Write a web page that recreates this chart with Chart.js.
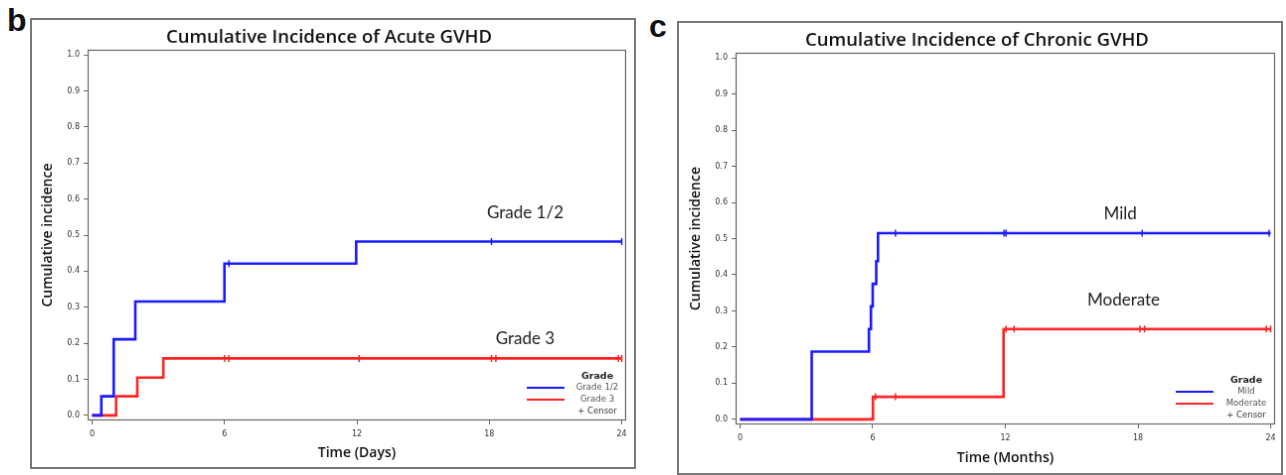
<!DOCTYPE html>
<html>
<head>
<meta charset="utf-8">
<script src="https://cdn.jsdelivr.net/npm/chart.js@4.4.1/dist/chart.umd.min.js"></script>
<style>
  body { margin: 0; background: #fff; width: 1286px; height: 475px; overflow: hidden; position: relative; font-family: "Open Sans", sans-serif; }
  canvas { position: absolute; border: 2px solid #777; }
  .tag { position: absolute; font: bold 32px/32px "Liberation Sans", Arial, sans-serif; color: #111; }
</style>
</head>
<body>
<div class="tag" style="left:7px;top:4px">b</div>
<div class="tag" style="left:649px;top:10px">c</div>
<canvas id="acute" width="606" height="451" style="left:30px;top:18px"></canvas>
<canvas id="chronic" width="606" height="454" style="left:677px;top:21px"></canvas>
<script>
// Acute GVHD (time in days)
const acuteG12Times = [0, 0.42, 0.98, 1.96, 6.0, 11.97, 24];
const acuteG12Values = [0, 0.053, 0.211, 0.316, 0.421, 0.482, 0.482];
const acuteG12CensorTimes = [6.2, 18.1, 24];
const acuteG12CensorValues = [0.421, 0.482, 0.482];

const acuteG3Times = [0, 1.09, 2.05, 3.23, 24];
const acuteG3Values = [0, 0.053, 0.105, 0.158, 0.158];
const acuteG3CensorTimes = [6.0, 6.2, 12.1, 18.1, 18.3, 23.85, 24];
const acuteG3CensorValues = [0.158, 0.158, 0.158, 0.158, 0.158, 0.158, 0.158];

// Chronic GVHD (time in months)
const chronicMildTimes = [0, 3.24, 5.83, 5.92, 6.0, 6.16, 6.24, 24];
const chronicMildValues = [0, 0.1875, 0.25, 0.3125, 0.375, 0.4375, 0.515, 0.515];
const chronicMildCensorTimes = [7.03, 11.94, 12.03, 18.19, 23.93];
const chronicMildCensorValues = [0.515, 0.515, 0.515, 0.515, 0.515];

const chronicModTimes = [0, 6.01, 11.92, 24];
const chronicModValues = [0, 0.0625, 0.25, 0.25];
const chronicModCensorTimes = [6.12, 7.03, 12.03, 12.4, 18.08, 18.3, 23.8, 24];
const chronicModCensorValues = [0.0625, 0.0625, 0.25, 0.25, 0.25, 0.25, 0.25, 0.25];

const xTicks = [0, 6, 12, 18, 24];
const yTicks = [0, 0.1, 0.2, 0.3, 0.4, 0.5, 0.6, 0.7, 0.8, 0.9, 1.0];

const BLUE = '#1a1aff';
const RED = '#ff2424';

function pts(xs, ys) {
  return xs.map((x, i) => ({ x: x, y: ys[i] }));
}

// box around the plot area, SAS style
const framePlugin = {
  id: 'frame',
  afterDraw(chart) {
    const a = chart.chartArea, ctx = chart.ctx;
    ctx.save();
    ctx.strokeStyle = '#666';
    ctx.lineWidth = 1.2;
    ctx.strokeRect(a.left + 0.5, a.top + 0.5, a.right - a.left - 1, a.bottom - a.top - 1);
    ctx.restore();
  }
};

// inset legend + curve labels
const extrasPlugin = {
  id: 'kmExtras',
  afterDatasetsDraw(chart, args, opts) {
    const a = chart.chartArea, ctx = chart.ctx;
    const xs = chart.scales.x, ys = chart.scales.y;
    ctx.save();
    ctx.textAlign = 'center';
    ctx.textBaseline = 'middle';
    ctx.fillStyle = '#222';
    ctx.font = '17px Lato, "Open Sans", sans-serif';
    (opts.notes || []).forEach(n => {
      ctx.fillText(n.text, xs.getPixelForValue(n.x), ys.getPixelForValue(n.y));
    });
    const cx = a.right - 29;
    ctx.font = 'bold 9.5px "DejaVu Sans", sans-serif';
    ctx.fillStyle = '#222';
    ctx.fillText(opts.title, cx, a.bottom - 44);
    ctx.font = '9.5px "DejaVu Sans Condensed", "DejaVu Sans", sans-serif';
    (opts.items || []).forEach((it, i) => {
      const y = a.bottom - 33 + i * 12;
      ctx.strokeStyle = it.color;
      ctx.lineWidth = 2;
      ctx.beginPath();
      ctx.moveTo(a.right - 100, y);
      ctx.lineTo(a.right - 62, y);
      ctx.stroke();
      ctx.fillStyle = '#555';
      ctx.fillText(it.label, cx, y);
    });
    ctx.fillStyle = '#333';
    ctx.fillText('+ Censor', cx, a.bottom - 9);
    ctx.restore();
  }
};

function makePanel(id, cfg) {
  const datasets = [];
  cfg.series.forEach(s => {
    datasets.push({
      type: 'line', label: s.label, data: pts(s.times, s.values),
      stepped: 'before', borderColor: s.color, borderWidth: 2.6,
      pointRadius: 0, fill: false
    });
    datasets.push({
      type: 'scatter', label: s.label + ' censor', data: pts(s.censorTimes, s.censorValues),
      pointStyle: 'line', rotation: 90, pointRadius: 3.5,
      borderColor: s.color, borderWidth: 1.5, backgroundColor: s.color
    });
  });

  new Chart(document.getElementById(id), {
    type: 'line',
    data: { datasets: datasets },
    options: {
      responsive: false,
      animation: false,
      layout: { padding: { right: cfg.padRight, bottom: 0, top: 0, left: 0 } },
      plugins: {
        legend: { display: false },
        tooltip: { enabled: false },
        title: {
          display: true, text: cfg.title, color: '#111',
          font: { family: '"Open Sans", sans-serif', size: 18.5, weight: '600' },
          padding: { top: 7, bottom: 0.8 }
        },
        kmExtras: { title: 'Grade', items: cfg.series.map(s => ({ label: s.label, color: s.color })), notes: cfg.notes }
      },
      scales: {
        x: {
          type: 'linear', min: -0.2, max: 24.2,
          afterBuildTicks: s => { s.ticks = xTicks.map(v => ({ value: v })); },
          afterFit: s => { s.height = cfg.xAxisHeight; },
          grid: { drawOnChartArea: false, tickLength: 4, color: '#666' },
          border: { display: false },
          ticks: { color: '#333', font: { size: 8, family: '"DejaVu Sans"' }, padding: 5, maxRotation: 0 },
          title: { display: true, text: cfg.xTitle, color: '#111', font: { family: '"Open Sans", sans-serif', size: 14, weight: '600' }, padding: { top: 0, bottom: cfg.xTitlePad } }
        },
        y: {
          type: 'linear', min: -0.014, max: 1.014,
          afterBuildTicks: s => { s.ticks = yTicks.map(v => ({ value: v })); },
          afterFit: s => { s.width = cfg.yAxisWidth; },
          grid: { drawOnChartArea: false, tickLength: 4, color: '#666' },
          border: { display: false },
          ticks: { color: '#333', font: { size: 8, family: '"DejaVu Sans"' }, padding: 4, callback: v => v.toFixed(1) },
          title: { display: true, text: 'Cumulative incidence', color: '#111', font: { family: '"Open Sans", sans-serif', size: 14, weight: '600' }, padding: { top: cfg.yTitlePad, bottom: 0 } }
        }
      }
    },
    plugins: [framePlugin, extrasPlugin]
  });
}

makePanel('acute', {
  title: 'Cumulative Incidence of Acute GVHD',
  xTitle: 'Time (Days)',
  padRight: 8, xAxisHeight: 47, yAxisWidth: 56, xTitlePad: 5.6, yTitlePad: 8,
  series: [
    { label: 'Grade 1/2', color: BLUE, times: acuteG12Times, values: acuteG12Values, censorTimes: acuteG12CensorTimes, censorValues: acuteG12CensorValues },
    { label: 'Grade 3', color: RED, times: acuteG3Times, values: acuteG3Values, censorTimes: acuteG3CensorTimes, censorValues: acuteG3CensorValues }
  ],
  notes: [{ text: 'Grade 1/2', x: 19.63, y: 0.562 }, { text: 'Grade 3', x: 19.63, y: 0.214 }]
});

makePanel('chronic', {
  title: 'Cumulative Incidence of Chronic GVHD',
  xTitle: 'Time (Months)',
  padRight: 6, xAxisHeight: 49, yAxisWidth: 57, xTitlePad: 6.6, yTitlePad: 9,
  series: [
    { label: 'Mild', color: BLUE, times: chronicMildTimes, values: chronicMildValues, censorTimes: chronicMildCensorTimes, censorValues: chronicMildCensorValues },
    { label: 'Moderate', color: RED, times: chronicModTimes, values: chronicModValues, censorTimes: chronicModCensorTimes, censorValues: chronicModCensorValues }
  ],
  notes: [{ text: 'Mild', x: 17.2, y: 0.569 }, { text: 'Moderate', x: 17.35, y: 0.33 }]
});
</script>
</body>
</html>
